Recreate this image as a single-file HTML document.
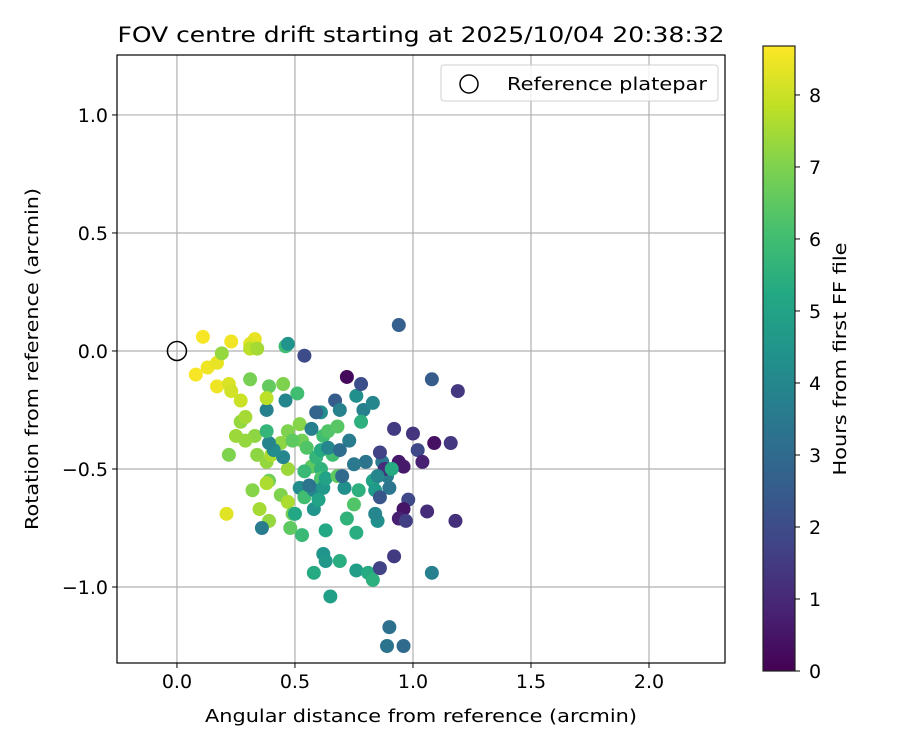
<!DOCTYPE html>
<html><head><meta charset="utf-8"><style>
html,body{margin:0;padding:0;background:#fff;}
svg text{font-family:"DejaVu Sans","Liberation Sans",sans-serif;fill:#000;}
</style></head><body>
<svg id="chart" width="900" height="750" viewBox="0 0 900 750" xmlns="http://www.w3.org/2000/svg">
<defs>
<linearGradient id="vir" x1="0" y1="1" x2="0" y2="0">
<stop offset="0" stop-color="#440154"/><stop offset="0.1" stop-color="#482475"/><stop offset="0.2" stop-color="#414487"/><stop offset="0.3" stop-color="#355f8d"/><stop offset="0.4" stop-color="#2a788e"/><stop offset="0.5" stop-color="#21918c"/><stop offset="0.6" stop-color="#22a884"/><stop offset="0.7" stop-color="#44bf70"/><stop offset="0.8" stop-color="#7ad151"/><stop offset="0.9" stop-color="#bddf26"/><stop offset="1" stop-color="#fde725"/>
</linearGradient>
<clipPath id="clip"><rect x="117" y="55" width="608" height="608"/></clipPath>
</defs>
<text x="421" y="42" font-size="21" text-anchor="middle" textLength="607" lengthAdjust="spacingAndGlyphs">FOV centre drift starting at 2025/10/04 20:38:32</text>
<g id="grid"></g>
<g id="pts" clip-path="url(#clip)"></g>
<rect x="117" y="55" width="608" height="608" fill="none" stroke="#000" stroke-width="1.2"/>
<g id="ticks"></g>
<text x="421" y="722" font-size="18" text-anchor="middle" textLength="432" lengthAdjust="spacingAndGlyphs">Angular distance from reference (arcmin)</text>
<text transform="translate(38,359) rotate(-90)" font-size="18" text-anchor="middle" textLength="342" lengthAdjust="spacingAndGlyphs">Rotation from reference (arcmin)</text>
<g>
<rect x="441" y="65" width="277" height="36" rx="3" fill="#fff" fill-opacity="0.8" stroke="#d0d0d0"/>
<circle cx="469" cy="84" r="9" fill="none" stroke="#000" stroke-width="1.5"/>
<text x="507" y="90" font-size="18" textLength="200" lengthAdjust="spacingAndGlyphs">Reference platepar</text>
</g>
<g>
<rect x="763" y="46" width="32" height="625" fill="url(#vir)" stroke="#222" stroke-width="1.2"/>
<g id="cbticks"></g>
<text transform="translate(846,359) rotate(-90)" font-size="18" text-anchor="middle" textLength="233" lengthAdjust="spacingAndGlyphs">Hours from first FF file</text>
</g>
</svg>
<script>
const xs=[0.11,0.23,0.33,0.31,0.08,0.13,0.17,0.17,0.22,0.23,0.27,0.21,0.19,0.31,0.34,0.31,0.39,0.45,0.46,0.47,0.38,0.38,0.51,0.46,0.27,0.29,0.25,0.33,0.22,0.29,0.34,0.38,0.40,0.47,0.44,0.47,0.44,0.39,0.32,0.35,0.39,0.36,0.47,0.49,0.48,0.45,0.41,0.39,0.38,0.52,0.53,0.49,0.55,0.57,0.59,0.61,0.61,0.61,0.62,0.54,0.52,0.54,0.50,0.53,0.58,0.56,0.62,0.63,0.66,0.64,0.68,0.64,0.61,0.59,0.54,0.57,0.67,0.69,0.76,0.78,0.72,0.79,0.78,0.73,0.69,0.68,0.71,0.70,0.62,0.63,0.63,0.58,0.65,0.69,0.72,0.76,0.75,0.80,0.75,0.83,0.77,0.84,0.89,0.90,0.85,0.84,0.86,0.87,0.76,0.81,0.83,0.94,1.08,1.19,0.92,1.00,1.09,1.16,0.86,1.02,1.04,0.94,0.96,0.88,0.91,0.85,0.98,0.96,1.06,0.94,0.97,1.18,0.92,0.86,1.08,0.90,0.89,0.96,0.83,0.38,0.58,0.60];
const ys=[0.06,0.04,0.05,0.03,-0.10,-0.07,-0.05,-0.15,-0.14,-0.17,-0.21,-0.69,-0.01,0.01,0.01,-0.12,-0.15,-0.14,0.02,0.03,-0.25,-0.20,-0.18,-0.21,-0.30,-0.28,-0.36,-0.36,-0.44,-0.38,-0.44,-0.47,-0.44,-0.34,-0.39,-0.50,-0.61,-0.55,-0.59,-0.67,-0.72,-0.75,-0.64,-0.69,-0.75,-0.45,-0.42,-0.39,-0.34,-0.31,-0.38,-0.38,-0.41,-0.49,-0.45,-0.42,-0.50,-0.54,-0.36,-0.51,-0.58,-0.62,-0.69,-0.78,-0.59,-0.57,-0.58,-0.54,-0.44,-0.34,-0.32,-0.41,-0.26,-0.26,-0.02,-0.33,-0.21,-0.25,-0.19,-0.14,-0.11,-0.25,-0.30,-0.38,-0.42,-0.53,-0.58,-0.53,-0.86,-0.89,-0.76,-0.94,-1.04,-0.89,-0.71,-0.77,-0.65,-0.47,-0.48,-0.55,-0.59,-0.59,-0.53,-0.58,-0.72,-0.69,-0.62,-0.47,-0.93,-0.94,-0.97,0.11,-0.12,-0.17,-0.33,-0.35,-0.39,-0.39,-0.43,-0.42,-0.47,-0.47,-0.49,-0.50,-0.50,-0.53,-0.63,-0.67,-0.68,-0.71,-0.72,-0.72,-0.87,-0.92,-0.94,-1.17,-1.25,-1.25,-0.22,-0.56,-0.67,-0.63];
const hours=[8.6,8.5,8.4,8.3,8.6,8.5,8.4,8.5,8.2,8.1,8.0,8.3,7.3,7.8,7.5,6.9,6.6,7.0,6.0,4.5,3.8,7.8,6.0,4.0,7.3,7.5,7.4,7.2,7.0,7.3,7.2,7.3,7.6,7.0,7.2,7.4,7.0,6.8,7.1,7.5,7.3,3.6,7.6,6.8,6.5,4.0,4.2,3.9,5.7,7.1,6.8,6.5,6.3,6.5,5.7,5.3,5.6,6.2,6.0,5.8,4.2,6.0,5.2,5.8,4.0,3.3,4.6,5.0,6.0,6.3,6.4,4.0,4.2,2.8,2.0,3.7,2.5,3.8,4.3,2.1,0.2,3.8,5.5,3.6,3.1,6.5,4.3,3.0,4.5,4.6,5.2,5.3,4.9,5.4,5.6,5.4,6.3,3.3,3.5,5.0,5.5,4.7,3.6,3.4,4.3,4.0,2.3,3.5,4.8,5.3,5.5,2.6,2.5,1.4,1.5,1.3,0.4,1.4,1.7,1.9,0.8,0.6,0.6,1.1,5.3,4.0,1.9,0.5,1.1,0.8,1.6,1.2,1.5,1.7,3.7,3.2,3.3,3.0,4.0,7.6,4.5,5.0];
const xTicks=[0,0.5,1,1.5,2];
const yTicks=[-1,-0.5,0,0.5,1];
const cTicks=[0,1,2,3,4,5,6,7,8];
const NS='http://www.w3.org/2000/svg';
const X0=-0.254,X1=2.322,Y0=-1.322,Y1=1.254,L=117,T=55,W=608,H=608,HMAX=8.68;
const sx=v=>L+(v-X0)/(X1-X0)*W;
const sy=v=>T+(Y1-v)/(Y1-Y0)*H;
const sc=v=>671-v/HMAX*625;
const stops=['#440154','#482475','#414487','#355f8d','#2a788e','#21918c','#22a884','#44bf70','#7ad151','#bddf26','#fde725'];
function hex(h){return [1,3,5].map(i=>parseInt(h.substr(i,2),16));}
function vir(t){t=Math.max(0,Math.min(1,t));const p=t*10,i=Math.min(9,Math.floor(p)),f=p-i;const a=hex(stops[i]),b=hex(stops[i+1]);return 'rgb('+a.map((c,k)=>Math.round(c+(b[k]-c)*f)).join(',')+')';}
function mk(tag,attrs,parent){const e=document.createElementNS(NS,tag);for(const k in attrs)e.setAttribute(k,attrs[k]);parent.appendChild(e);return e;}
const grid=document.getElementById('grid'),ticks=document.getElementById('ticks'),pts=document.getElementById('pts'),cb=document.getElementById('cbticks');
xTicks.forEach(v=>{
 const g=mk('line',{x1:sx(v),x2:sx(v),y1:T,y2:T+H,stroke:'#b0b0b0','stroke-width':1.2},grid);
 
 
 mk('line',{x1:sx(v),x2:sx(v),y1:T+H,y2:T+H+5,stroke:'#000','stroke-width':1},ticks);
 const t=mk('text',{x:sx(v),y:T+H+25,'font-size':19,'text-anchor':'middle'},ticks);
 
 
 t.textContent=v.toFixed(1);
});
yTicks.forEach(v=>{
 const g=mk('line',{x1:L,x2:L+W,y1:sy(v),y2:sy(v),stroke:'#b0b0b0','stroke-width':1.2},grid);
 
 
 mk('line',{x1:L-5,x2:L,y1:sy(v),y2:sy(v),stroke:'#000','stroke-width':1},ticks);
 const t=mk('text',{x:L-9,y:sy(v)+7,'font-size':19,'text-anchor':'end'},ticks);
 
 
 t.textContent=(v<0?'\u2212':'')+Math.abs(v).toFixed(1);
});
xs.forEach((x,i)=>{
 const c=mk('circle',{cx:sx(x),cy:sy(ys[i]),r:7,fill:vir(hours[i]/HMAX)},pts);
 
 
});
const ref=mk('circle',{cx:sx(0),cy:sy(0),r:9.5,fill:'none',stroke:'#000','stroke-width':1.5},pts);


cTicks.forEach(v=>{
 mk('line',{x1:795,x2:800,y1:sc(v),y2:sc(v),stroke:'#000','stroke-width':1},cb);
 const t=mk('text',{x:809,y:sc(v)+7,'font-size':19},cb);
 
 
 t.textContent=v;
});
</script>
</body></html>
